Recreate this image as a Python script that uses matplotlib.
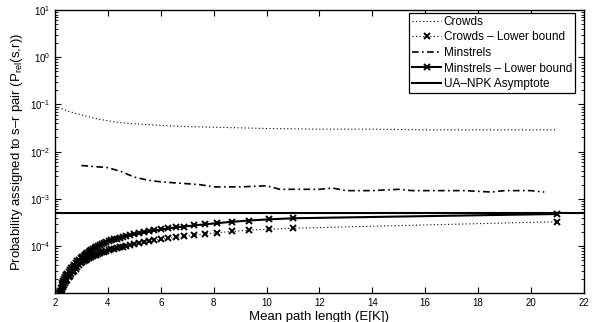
import matplotlib
matplotlib.use("Agg")
import matplotlib.pyplot as plt
from matplotlib.ticker import LogLocator, LogFormatterSciNotation, NullFormatter, FixedLocator

plt.rcParams['font.family'] = ['Liberation Sans', 'DejaVu Sans']
plt.rcParams['mathtext.fontset'] = 'custom'
plt.rcParams['mathtext.rm'] = 'Liberation Sans'
plt.rcParams['mathtext.it'] = 'Liberation Sans:italic'

# ---- data ----
crowds_x = [2.0, 2.5, 3.0, 3.5, 4.0, 4.5, 5.0, 6.0, 7.0, 8.0, 10.0, 12.0, 14.0, 16.0, 18.0, 21.0]
crowds_y = [0.092, 0.072, 0.060, 0.051, 0.045, 0.041, 0.039, 0.036, 0.034, 0.033, 0.031,
            0.030, 0.030, 0.029, 0.029, 0.029]

minstrels_x = [3.0, 4.0, 4.5, 5.0, 5.5, 6.0, 7.0, 7.5, 8.0, 9.0, 10.0, 10.5, 11.0, 12.0,
               12.5, 13.0, 14.0, 15.0, 15.5, 16.0, 17.0, 17.5, 18.5, 19.0, 20.0, 20.5]
minstrels_y = [0.0051, 0.0046, 0.0038, 0.0029, 0.0025, 0.0023, 0.0021, 0.0020, 0.0018, 0.0018,
               0.0019, 0.0016, 0.0016, 0.0016, 0.0017, 0.0015, 0.0015, 0.0016, 0.0015, 0.0015,
               0.0015, 0.0015, 0.0014, 0.0015, 0.0015, 0.0014]

lb_x = [2.11, 2.14, 2.16, 2.19, 2.22, 2.25, 2.28, 2.32, 2.35, 2.39, 2.43, 2.47, 2.52, 2.56,
        2.61, 2.67, 2.72, 2.79, 2.85, 2.92, 3.00,
        3.04, 3.08, 3.13, 3.17, 3.22, 3.27, 3.33, 3.38, 3.44, 3.50, 3.56, 3.63, 3.70, 3.78,
        3.86, 3.94, 4.03, 4.13, 4.23, 4.33, 4.45, 4.57, 4.70, 4.85, 5.00, 5.17, 5.35, 5.55,
        5.76, 6.00,
        6.26, 6.56, 6.88, 7.25, 7.67, 8.14, 8.69, 9.33, 10.09, 11.0, 21.0]

crowds_lb_y = [5.0e-6, 6.2e-6, 7.2e-6, 8.4e-6, 9.6e-6, 1.1e-5, 1.22e-5, 1.38e-5, 1.5e-5,
               1.65e-5, 1.8e-5, 1.97e-5, 2.2e-5, 2.36e-5, 2.56e-5, 2.8e-5, 3.05e-5, 3.35e-5,
               3.65e-5, 4.0e-5, 4.4e-5,
               4.6e-5, 4.8e-5, 5.0e-5, 5.2e-5, 5.4e-5, 5.6e-5, 5.8e-5, 6.0e-5, 6.2e-5, 6.4e-5,
               6.6e-5, 6.9e-5, 7.1e-5, 7.4e-5, 7.7e-5, 8.0e-5, 8.3e-5, 8.6e-5, 8.9e-5, 9.2e-5,
               9.5e-5, 9.8e-5, 1.02e-4, 1.06e-4, 1.10e-4, 1.15e-4, 1.20e-4, 1.26e-4, 1.33e-4,
               1.40e-4,
               1.47e-4, 1.54e-4, 1.61e-4, 1.70e-4, 1.80e-4, 1.93e-4, 2.05e-4, 2.18e-4,
               2.28e-4, 2.40e-4, 3.30e-4]

minstrels_lb_y = [7.5e-6, 9.0e-6, 1.0e-5, 1.15e-5, 1.3e-5, 1.5e-5, 1.65e-5, 1.85e-5, 2.0e-5,
                  2.2e-5, 2.4e-5, 2.6e-5, 2.9e-5, 3.1e-5, 3.4e-5, 3.7e-5, 4.0e-5, 4.4e-5,
                  4.8e-5, 5.1e-5, 5.5e-5,
                  5.8e-5, 6.1e-5, 6.5e-5, 6.8e-5, 7.2e-5, 7.6e-5, 8.0e-5, 8.4e-5, 8.8e-5,
                  9.2e-5, 9.6e-5, 1.01e-4, 1.06e-4, 1.11e-4, 1.16e-4, 1.21e-4, 1.27e-4,
                  1.33e-4, 1.39e-4, 1.45e-4, 1.52e-4, 1.58e-4, 1.65e-4, 1.73e-4, 1.80e-4,
                  1.88e-4, 1.96e-4, 2.05e-4, 2.15e-4, 2.26e-4,
                  2.37e-4, 2.49e-4, 2.61e-4, 2.75e-4, 2.90e-4, 3.08e-4, 3.28e-4, 3.49e-4,
                  3.70e-4, 3.90e-4, 4.80e-4]

asymptote_y = 5e-4
x_limits = [2, 22]
x_ticks = [2, 4, 6, 8, 10, 12, 14, 16, 18, 20, 22]
y_ticks = [1e-4, 1e-3, 1e-2, 1e-1, 1e0, 1e1]

# ---- figure ----
fig = plt.figure(figsize=(5.95, 3.22), dpi=100)
ax = fig.add_axes([0.0924, 0.090, 0.889, 0.879])

ax.plot(crowds_x, crowds_y, color='black', linestyle=(0, (1, 2.2)), lw=0.8, label='Crowds')
ax.plot(lb_x, crowds_lb_y, color='black', linestyle=(0, (1, 2.2)), lw=0.8,
        marker='x', ms=4.8, mew=1.4, label='Crowds \u2013 Lower bound')
ax.plot(minstrels_x, minstrels_y, color='black', linestyle=(0, (4, 2, 1, 2)), lw=1.2,
        label='Minstrels')
ax.plot(lb_x, minstrels_lb_y, color='black', linestyle='-', lw=1.5,
        marker='x', ms=4.8, mew=1.4, label='Minstrels \u2013 Lower bound')
ax.plot(x_limits, [asymptote_y, asymptote_y], color='black', lw=1.5,
        label='UA\u2013NPK Asymptote')

ax.set_yscale('log')
ax.set_xlim(x_limits)
ax.set_ylim(1.02e-5, 10)
ax.set_xticks(x_ticks)
ax.yaxis.set_major_locator(FixedLocator(y_ticks))
ax.yaxis.set_major_formatter(LogFormatterSciNotation())
ax.yaxis.set_minor_locator(LogLocator(base=10, subs=range(2, 10), numticks=20))
ax.yaxis.set_minor_formatter(NullFormatter())

ax.tick_params(which='both', direction='in', top=True, right=True, labelsize=7)
ax.tick_params(which='major', length=4, width=0.8)
ax.tick_params(which='minor', length=2, width=0.6)
for s in ax.spines.values():
    s.set_linewidth(1.0)

ax.set_xlabel('Mean path length (E[K])', fontsize=9.5, labelpad=2)
ax.set_ylabel('Probability assigned to s\u2013r pair (P$_{\\mathrm{rel}}$(s,r))', fontsize=9.5,
              labelpad=3)

leg = ax.legend(loc='upper right', bbox_to_anchor=(1 - 9 / 529, 1 - 3 / 283),
                fontsize=8.5, frameon=True, fancybox=False,
                edgecolor='black', framealpha=1, handlelength=2.4, handletextpad=0.25,
                borderpad=0.25, labelspacing=0.3, borderaxespad=0)
leg.get_frame().set_linewidth(0.9)

fig.savefig('out.png', dpi=100)
